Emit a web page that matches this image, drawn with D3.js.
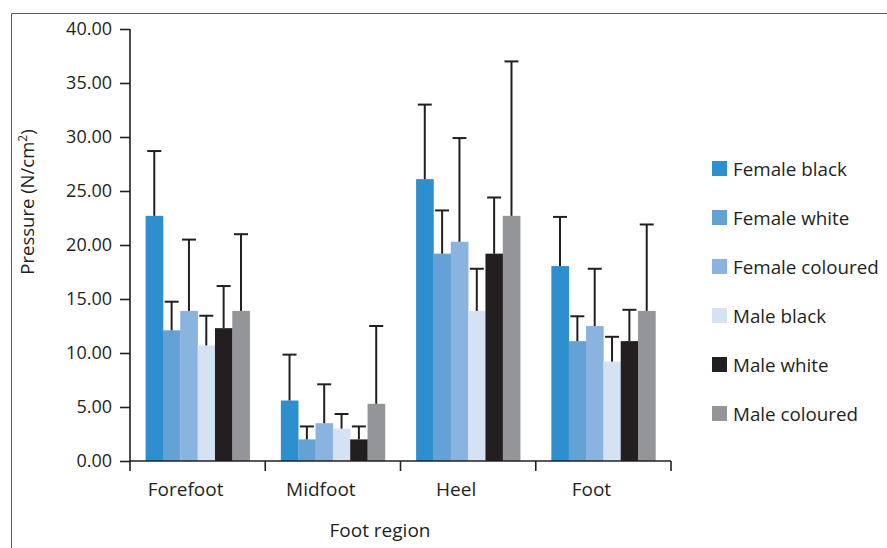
<!DOCTYPE html>
<html>
<head>
<meta charset="utf-8">
<script src="https://cdn.jsdelivr.net/npm/d3@7"></script>
<style>
  body { margin: 0; background: #fff; }
  svg text { font-family: "Open Sans", sans-serif; fill: #231f20; }
</style>
</head>
<body>
<svg id="chart" width="887" height="548"></svg>
<script>
// regions along the x axis
var regions = ['Forefoot', 'Midfoot', 'Heel', 'Foot'];
var groups = ['Female black', 'Female white', 'Female coloured', 'Male black', 'Male white', 'Male coloured'];
var colors = ['#2e8fcf', '#64a2d6', '#8ab3df', '#d5e2f3', '#231f20', '#939598'];

// mean pressure per group, one array per region
var forefoot = [22.7, 12.1, 13.9, 10.7, 12.3, 13.9];
var midfoot  = [5.6, 2.0, 3.5, 3.0, 2.0, 5.3];
var heel     = [26.1, 19.2, 20.3, 13.9, 19.2, 22.7];
var foot     = [18.05, 11.1, 12.5, 9.2, 11.1, 13.9];

// standard deviations (upper error bars)
var forefootSD = [6.0, 2.65, 6.6, 2.75, 3.9, 7.1];
var midfootSD  = [4.25, 1.2, 3.6, 1.35, 1.2, 7.2];
var heelSD     = [6.9, 4.0, 9.6, 3.9, 5.2, 14.3];
var footSD     = [4.55, 2.3, 5.3, 2.3, 2.9, 8.0];

var yTicks = [0, 5, 10, 15, 20, 25, 30, 35, 40];

var means = [forefoot, midfoot, heel, foot];
var sds = [forefootSD, midfootSD, heelSD, footSD];

var svg = d3.select('#chart');

// frame round the figure
svg.append('path')
	.attr('d', 'M11.5,548 V13.5 H887')
	.attr('fill', 'none')
	.attr('stroke', '#58595b')
	.attr('stroke-width', 1);

var x0 = d3.scaleBand().domain(regions).range([130, 671]).padding(0);
var x1 = d3.scaleBand().domain(groups).range([0, x0.bandwidth()]).paddingInner(0).paddingOuter(0.9);
var y = d3.scaleLinear().domain([0, 40]).range([461, 29]);
var color = d3.scaleOrdinal().domain(groups).range(colors);

var data = [];
regions.forEach(function(r, i){
	groups.forEach(function(g, j){
		data.push({region: r, group: g, value: means[i][j], sd: sds[i][j]});
	});
});

var bars = svg.append('g');
bars.selectAll('rect').data(data).enter().append('rect')
	.attr('x', function(d){ return x0(d.region) + x1(d.group); })
	.attr('y', function(d){ return y(d.value); })
	.attr('width', x1.bandwidth() + 0.3)
	.attr('height', function(d){ return y(0) - y(d.value); })
	.attr('fill', function(d){ return color(d.group); });

// error bars
var err = svg.append('g').attr('stroke', '#231f20').attr('stroke-width', 2);
err.selectAll('line.v').data(data).enter().append('line')
	.attr('class', 'v')
	.attr('x1', function(d){ return x0(d.region) + x1(d.group) + x1.bandwidth() / 2; })
	.attr('x2', function(d){ return x0(d.region) + x1(d.group) + x1.bandwidth() / 2; })
	.attr('y1', function(d){ return y(d.value); })
	.attr('y2', function(d){ return y(d.value + d.sd); });
err.selectAll('line.c').data(data).enter().append('line')
	.attr('class', 'c')
	.attr('x1', function(d){ return x0(d.region) + x1(d.group) + x1.bandwidth() / 2 - 7; })
	.attr('x2', function(d){ return x0(d.region) + x1(d.group) + x1.bandwidth() / 2 + 7; })
	.attr('y1', function(d){ return y(d.value + d.sd); })
	.attr('y2', function(d){ return y(d.value + d.sd); });

// y axis
var yAxis = svg.append('g').attr('transform', 'translate(130,0)')
	.call(d3.axisLeft(y).tickValues(yTicks).tickFormat(d3.format('.2f')).tickSize(10).tickPadding(8));
yAxis.select('.domain').attr('stroke', '#231f20').attr('stroke-width', 1.6).attr('d', 'M0,' + y(40) + 'V' + y(0));
yAxis.selectAll('.tick line').attr('stroke', '#231f20').attr('stroke-width', 1.6);
yAxis.selectAll('.tick text').attr('font-size', 18).attr('font-family', '"Open Sans", sans-serif').attr('fill', '#231f20');

// x axis, ticks at the region boundaries
var xAxis = svg.append('g').attr('transform', 'translate(0,' + y(0) + ')');
xAxis.append('line')
	.attr('x1', x0.range()[0]).attr('x2', x0.range()[1])
	.attr('stroke', '#231f20').attr('stroke-width', 1.6);
var bounds = regions.map(function(r){ return x0(r); }).concat([x0.range()[1]]);
xAxis.selectAll('line.t').data(bounds).enter().append('line')
	.attr('class', 't')
	.attr('x1', function(d){ return d; }).attr('x2', function(d){ return d; })
	.attr('y1', 0).attr('y2', 10)
	.attr('stroke', '#231f20').attr('stroke-width', 1.6);
xAxis.selectAll('text').data(regions).enter().append('text')
	.attr('x', function(d){ return x0(d) + x0.bandwidth() / 2 - 12; })
	.attr('y', 35)
	.attr('text-anchor', 'middle')
	.attr('font-size', 19)
	.text(function(d){ return d; });

svg.append('text')
	.attr('x', 380).attr('y', 537)
	.attr('text-anchor', 'middle')
	.attr('font-size', 19)
	.text('Foot region');

var yt = svg.append('text')
	.attr('transform', 'translate(34,202) rotate(-90)')
	.attr('text-anchor', 'middle')
	.attr('font-size', 18.5);
yt.append('tspan').text('Pressure (N/cm');
yt.append('tspan').attr('font-size', 12).attr('dy', -7).text('2');
yt.append('tspan').attr('dy', 7).text(')');

// legend
var legend = svg.append('g');
var leg = legend.selectAll('g').data(groups).enter().append('g')
	.attr('transform', function(d, i){ return 'translate(712,' + (161 + i * 49) + ')'; });
leg.append('rect').attr('width', 15).attr('height', 15).attr('fill', function(d){ return color(d); });
leg.append('text').attr('x', 21).attr('y', 14.5).attr('font-size', 18.8).text(function(d){ return d; });
</script>
</body>
</html>
